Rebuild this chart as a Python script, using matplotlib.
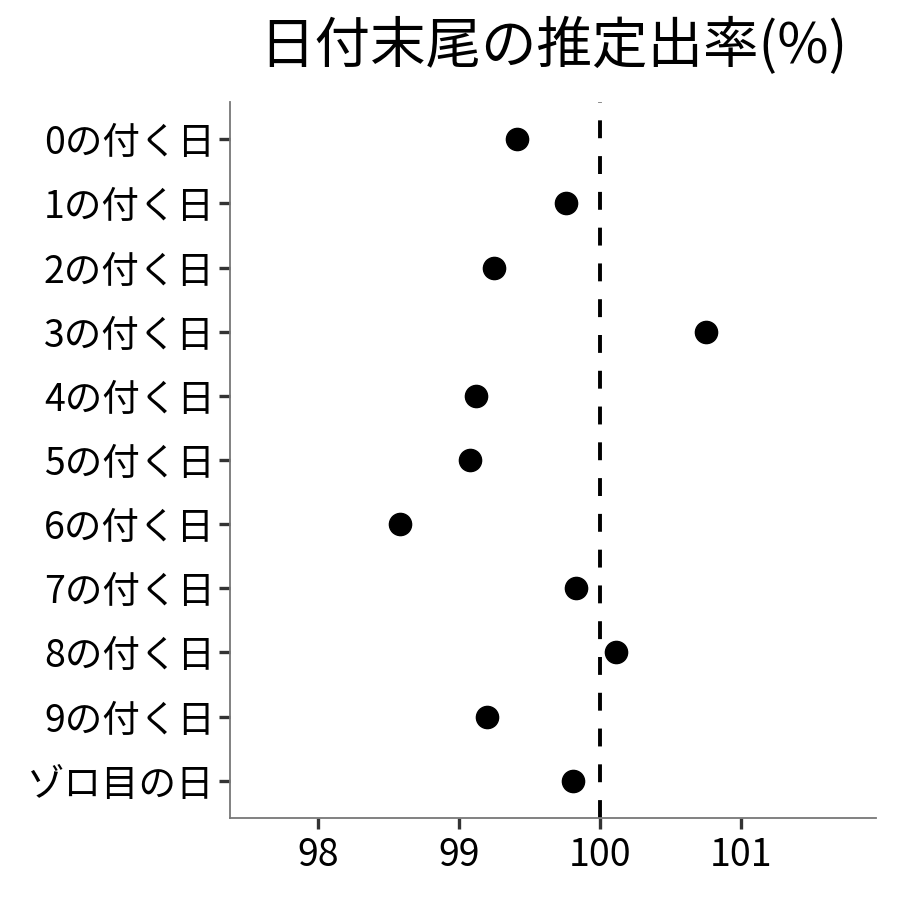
import matplotlib
matplotlib.use("Agg")
import matplotlib.pyplot as plt

plt.rcParams['font.family'] = ['Noto Sans CJK JP', 'DejaVu Sans']

categories = ["0の付く日", "1の付く日", "2の付く日", "3の付く日", "4の付く日",
              "5の付く日", "6の付く日", "7の付く日", "8の付く日", "9の付く日", "ゾロ目の日"]
values = [99.41, 99.76, 99.25, 100.75, 99.12, 99.08, 98.58, 99.83, 100.11, 99.20, 99.81]
xticks = [98, 99, 100, 101]
title = "日付末尾の推定出率(%)"

fig = plt.figure(figsize=(9, 9), dpi=100)
ax = fig.add_axes([0.2556, 0.0911, 0.7177, 0.7956])

ypos = list(range(len(categories)))[::-1]
ax.axvline(100, color='black', linestyle=(0, (4.6, 4.6)), linewidth=2.8, zorder=1)
ax.plot(values, ypos, 'o', color='black', markersize=16, linestyle='none', zorder=2)

ax.set_xlim(97.376, 101.957)
ax.set_ylim(-0.58, 10.58)
ax.set_yticks(ypos)
ax.set_yticklabels(categories)
ax.set_xticks(xticks)
ax.set_xticklabels([str(t) for t in xticks])

for s in ['top', 'right']:
    ax.spines[s].set_visible(False)
for s in ['left', 'bottom']:
    ax.spines[s].set_color('#777777')
    ax.spines[s].set_linewidth(1.3)
ax.tick_params(axis='both', colors='#333333', width=2.4, length=8, labelsize=27,
               labelcolor='black', pad=3)
ax.tick_params(axis='x', pad=5)

fig.text(0.6144, 0.948, title, ha='center', va='center', fontsize=40)

fig.savefig("out.png", dpi=100)
